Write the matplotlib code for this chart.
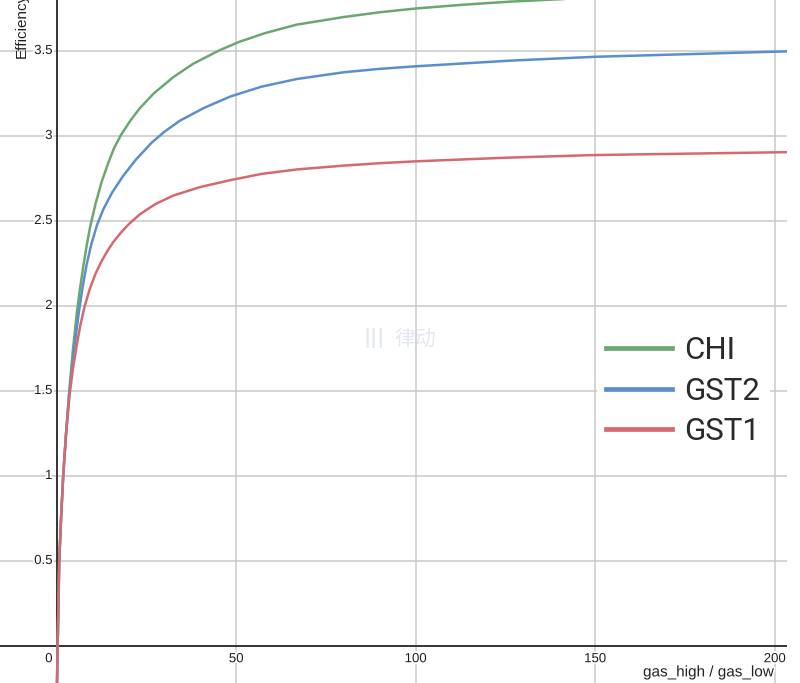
import matplotlib
matplotlib.use("Agg")
import matplotlib.pyplot as plt
import matplotlib.patheffects as pe
from matplotlib.lines import Line2D

# values
chi_x = [0.05, 0.25, 0.7, 1.2, 1.8, 2.6, 3.5, 4.5, 5.6, 6.4, 7.3, 8.3, 9.3, 10.8, 12.5, 14.5, 16, 18,
         20.5, 23, 27, 32.4, 38, 45.4, 51, 58, 66.8, 80, 90, 100, 113, 126, 150, 203.4]
chi_y = [-0.25, 0.0, 0.5, 0.75, 1.0, 1.25, 1.5, 1.74, 1.96, 2.09, 2.22, 2.35, 2.465, 2.6, 2.73, 2.85, 2.93, 3.01,
         3.09, 3.16, 3.25, 3.345, 3.425, 3.505, 3.555, 3.605, 3.655, 3.70, 3.728, 3.75, 3.772, 3.79, 3.815, 3.85]

gst2_x = [0.05, 0.25, 0.7, 1.2, 1.8, 2.6, 3.5, 4.8, 6.2, 7.2, 8.3, 9.6, 11.2, 13, 15.5, 18.5, 22, 26.4,
          30, 34.3, 41, 48.3, 57, 66.8, 80, 90, 100, 126, 150, 203.4]
gst2_y = [-0.25, 0.0, 0.5, 0.75, 1.0, 1.25, 1.49, 1.74, 1.97, 2.11, 2.24, 2.36, 2.475, 2.57, 2.67, 2.765, 2.86, 2.96,
          3.025, 3.09, 3.165, 3.232, 3.29, 3.335, 3.375, 3.395, 3.41, 3.443, 3.466, 3.498]

gst1_x = [0.05, 0.25, 0.7, 1.2, 1.8, 2.6, 3.6, 4.5, 5.5, 6.6, 7.8, 9.2, 10.8, 12.4, 14, 15.7, 17.8, 20,
          23.2, 27.5, 32.5, 40, 48.3, 57, 66.8, 80, 90, 100, 126, 150, 203.4]
gst1_y = [-0.25, 0.0, 0.5, 0.75, 1.0, 1.25, 1.48, 1.63, 1.76, 1.89, 2.0, 2.1, 2.19, 2.26, 2.32, 2.375, 2.43, 2.48,
          2.54, 2.6, 2.65, 2.7, 2.74, 2.777, 2.803, 2.826, 2.84, 2.851, 2.873, 2.888, 2.905]

names = ["CHI", "GST2", "GST1"]
colors = ["#6aa870", "#5b8fcc", "#d46a6e"]

x_ticks = [0, 50, 100, 150, 200]
y_ticks = [0.5, 1, 1.5, 2, 2.5, 3, 3.5]
y_labels = ["0.5", "1", "1.5", "2", "2.5", "3", "3.5"]

fig = plt.figure(figsize=(8, 6.83), dpi=100)
ax = fig.add_axes([0, 0, 787 / 800, 1])
ax.set_xlim(-15.8, 203.4)
ax.set_ylim(-0.2176, 3.8)
ax.set_axis_off()

grid_kw = dict(color="#c9c9c9", lw=1.1, zorder=1)
for xv in x_ticks[1:]:
    ax.axvline(xv, **grid_kw)
for yv in y_ticks:
    ax.axhline(yv, **grid_kw)
ax.axhline(0, color="#333333", lw=1.4, zorder=2)
ax.axvline(0, color="#333333", lw=1.4, zorder=2)

halo = [pe.withStroke(linewidth=2.5, foreground="white")]
tick_font = dict(family="Liberation Sans", size=9.5, color="#1e1e1e", path_effects=halo, zorder=3)
for xv in x_ticks:
    if xv == 0:
        ax.annotate("0", (0, 0), xytext=(-3, -9.5), textcoords="offset points",
                    ha="right", va="center", **tick_font)
    else:
        ax.annotate(str(xv), (xv, 0), xytext=(0, -9.5), textcoords="offset points",
                    ha="center", va="center", **tick_font)
for yv, lab in zip(y_ticks, y_labels):
    ax.annotate(lab, (0, yv), xytext=(-3, 0), textcoords="offset points",
                ha="right", va="center", **tick_font)

ax.annotate("gas_high / gas_low", (200, 0), xytext=(-1, -19), textcoords="offset points",
            ha="right", va="center", family="Liberation Sans", size=11, color="#222222",
            path_effects=halo, zorder=3)
# the reference crops this label at the top edge
fig.text(22 / 800, 1 - 58 / 683, "Efficiency", rotation=90, ha="center", va="bottom",
         family="Liberation Sans", size=11, color="#222222")

# faint watermark
ax.text(100, 1.81, "律动", family=["Noto Sans CJK SC", "DejaVu Sans"], size=15,
        color="#e3e7ef", ha="center", va="center", zorder=0.5)
ax.text(88.5, 1.81, "|||", family="DejaVu Sans", size=14, weight="bold",
        color="#e3e7ef", ha="center", va="center", zorder=0.5)

series = [(chi_x, chi_y), (gst2_x, gst2_y), (gst1_x, gst1_y)]
for (xs, ys), c in zip(series, colors):
    ax.plot(xs, ys, color=c, lw=1.8, solid_joinstyle="round", zorder=4)

handles = [Line2D([], [], color=c, lw=3.4) for c in colors]
leg = ax.legend(handles, names, loc="center left", bbox_to_anchor=(597 / 787, 1 - 391 / 683),
                frameon=True, facecolor="white", edgecolor="none", framealpha=1,
                prop=dict(family="Roboto", size=22.5),
                handlelength=2.1, handletextpad=0.4, labelspacing=0.38, borderpad=0.3,
                borderaxespad=0)
for t in leg.get_texts():
    t.set_color("#2a2a2a")
leg.set_zorder(5)

fig.savefig("out.png", dpi=100)
